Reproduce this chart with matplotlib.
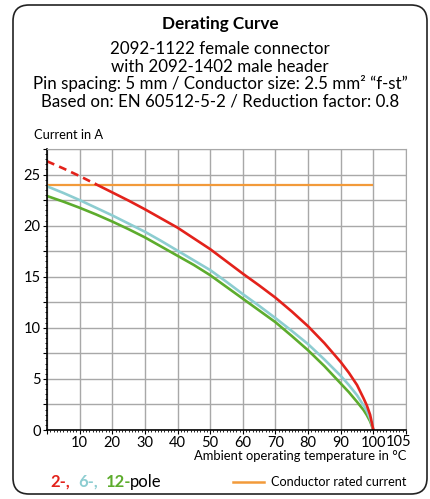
import matplotlib

matplotlib.use("Agg")
import matplotlib.pyplot as plt
from matplotlib.patches import FancyBboxPatch
from matplotlib.ticker import MultipleLocator

plt.rcParams["font.family"] = ["Lato", "DejaVu Sans"]

# values (ambient temperature in degC, current in A)
temp_red = [0, 5, 10, 15, 20, 25, 30, 35, 40, 45, 50, 55, 60, 65, 70, 75, 80, 85, 90, 92.5, 95, 97, 98, 99, 100]
current_red = [26.3, 25.6, 24.85, 24.05, 23.25, 22.45, 21.6, 20.7, 19.8, 18.75, 17.7, 16.5, 15.3, 14.15,
               12.95, 11.6, 10.15, 8.5, 6.65, 5.6, 4.4, 3.1, 2.4, 1.5, 0.0]
temp_blue = [0, 5, 10, 15, 20, 25, 30, 35, 40, 45, 50, 55, 60, 65, 70, 75, 80, 85, 90, 92.5, 95, 97, 98, 99, 100]
current_blue = [23.85, 23.2, 22.5, 21.75, 21.0, 20.2, 19.4, 18.5, 17.55, 16.6, 15.65, 14.5, 13.3, 12.15,
                10.95, 9.7, 8.4, 6.9, 5.3, 4.4, 3.4, 2.4, 1.85, 1.1, 0.0]
temp_green = [0, 5, 10, 15, 20, 25, 30, 35, 40, 45, 50, 55, 60, 65, 70, 75, 80, 85, 90, 92.5, 95, 97, 98, 99, 100]
current_green = [22.9, 22.35, 21.75, 21.1, 20.4, 19.65, 18.85, 17.95, 17.05, 16.15, 15.15, 14.0, 12.85, 11.7,
                 10.55, 9.2, 7.8, 6.25, 4.55, 3.7, 2.75, 1.95, 1.45, 0.85, 0.0]
rated_temp = [0, 100]
rated_current = [24, 24]
dash_until = 15

x_ticks = [0, 10, 20, 30, 40, 50, 60, 70, 80, 90, 100, 110]
x_labels = ["", "10", "20", "30", "40", "50", "60", "70", "80", "90", "100", ""]
y_ticks = [0, 2.5, 5, 7.5, 10, 12.5, 15, 17.5, 20, 22.5, 25, 27.5]
y_labels = ["0", "", "5", "", "10", "", "15", "", "20", "", "25", ""]

RED = "#e3221b"
BLUE = "#8dcdd1"
GREEN = "#5dac2d"
ORANGE = "#f29a3a"
GRID = "#a8a8a8"

fig = plt.figure(figsize=(4.30, 4.99), dpi=100)
fig.patches.append(FancyBboxPatch((13, 5), 414, 489, boxstyle="round,pad=0,rounding_size=16",
                                  transform=None, facecolor="none", edgecolor="#222222",
                                  linewidth=1.2, zorder=-1))

fig.text(0.512, 0.952, "Derating Curve", ha="center", va="center", fontsize=12.3, fontweight="bold")
subtitle = ["2092-1122 female connector",
            "with 2092-1402 male header",
            "Pin spacing: 5 mm / Conductor size: 2.5 mm\u00b2 \u201cf-st\u201d",
            "Based on: EN 60512-5-2 / Reduction factor: 0.8"]
for i, line in enumerate(subtitle):
    fig.text(0.512, 1 - (49 + i * 17.5) / 499, line, ha="center", va="center", fontsize=12.2)
fig.text(34 / 430, 1 - 135 / 499, "Current in A", ha="left", va="center", fontsize=9.3)

ax = fig.add_axes([47 / 430, 1 - 430 / 499, 359 / 430, 281 / 499])
ax.set_xlim(0, 110)
ax.set_ylim(0, 27.5)
ax.set_xticks(x_ticks)
ax.set_xticklabels(x_labels)
ax.set_yticks(y_ticks)
ax.set_yticklabels(y_labels)
ax.xaxis.set_minor_locator(MultipleLocator(1))
ax.yaxis.set_minor_locator(MultipleLocator(0.5))
ax.tick_params(axis="both", which="major", length=3, width=0.8, labelsize=10.5, pad=1.5)
ax.tick_params(axis="both", which="minor", length=1.5, width=0.6)
ax.grid(True, which="major", color=GRID, linewidth=1)
ax.set_axisbelow(True)
for side in ["top", "right"]:
    ax.spines[side].set_color(GRID)
for side in ["left", "bottom"]:
    ax.spines[side].set_color("black")
    ax.spines[side].set_linewidth(1.2)

ax.text(107.6, -0.018, "105", transform=ax.get_xaxis_transform(), ha="center", va="top", fontsize=10.5)

ax.plot(rated_temp, rated_current, color=ORANGE, linewidth=1.6, solid_capstyle="butt")
ax.plot(temp_green, current_green, color=GREEN, linewidth=1.9)
ax.plot(temp_blue, current_blue, color=BLUE, linewidth=1.9)
red_dash = [(t, c) for t, c in zip(temp_red, current_red) if t <= dash_until]
red_solid = [(t, c) for t, c in zip(temp_red, current_red) if t >= dash_until]
ax.plot([p[0] for p in red_dash], [p[1] for p in red_dash], color=RED, linewidth=1.9, linestyle=(0, (3, 2)))
ax.plot([p[0] for p in red_solid], [p[1] for p in red_solid], color=RED, linewidth=1.9)

fig.text(406 / 430, 1 - 456 / 499, "Ambient operating temperature in \u00b0C", ha="right", va="center", fontsize=9.4)

legend_y = 1 - 482 / 499
fig.text(50 / 430, legend_y, "2-,", color=RED, fontweight="bold", ha="left", va="center", fontsize=12)
fig.text(78 / 430, legend_y, "6-,", color=BLUE, fontweight="bold", ha="left", va="center", fontsize=12)
fig.text(106 / 430, legend_y, "12-", color=GREEN, fontweight="bold", ha="left", va="center", fontsize=12)
fig.text(130 / 430, legend_y, "pole", color="black", ha="left", va="center", fontsize=12)
fig.lines.append(plt.Line2D([233 / 430, 264 / 430], [legend_y, legend_y], transform=fig.transFigure,
                            color=ORANGE, linewidth=1.8))
fig.text(406 / 430, legend_y, "Conductor rated current", ha="right", va="center", fontsize=9.1)

fig.savefig("out.png", dpi=100)
